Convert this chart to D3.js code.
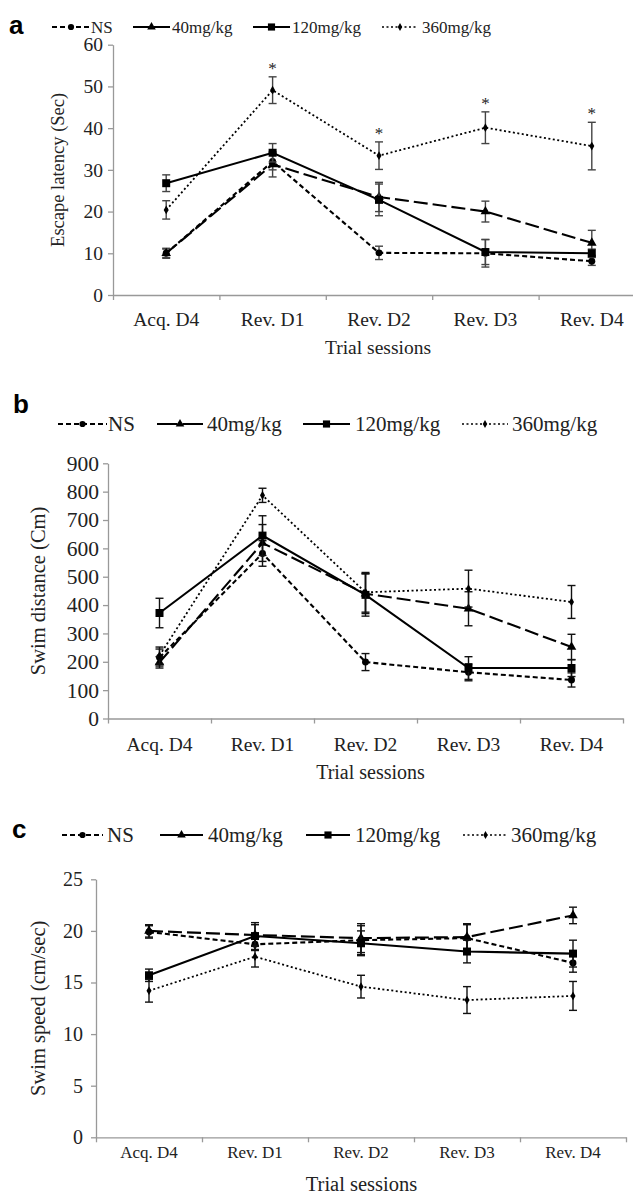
<!doctype html>
<html lang="en">
<head>
<meta charset="utf-8">
<title>Escape latency, swim distance and swim speed</title>
<style>
  body { margin: 0; background: #fff; }
  svg text { font-family: "Liberation Serif", "Times New Roman", serif; fill: #222; }
  .letter { font-family: "Liberation Sans", Arial, sans-serif !important; font-weight: bold; fill: #000 !important; }
  .axis path, .axis line { stroke: #999; stroke-width: 1.3px; }
</style>
<script src="https://d3js.org/d3.v7.min.js"></script>
</head>
<body>
<div id="chart"></div>
<script>
// sessions and groups
var sessions = ["Acq. D4", "Rev. D1", "Rev. D2", "Rev. D3", "Rev. D4"];
var groups = ["NS", "40mg/kg", "120mg/kg", "360mg/kg"];

// panel a - escape latency (sec)
var latencyNS = [10, 32, 10.1, 10, 8.1];
var latencyNSErr = [1.2, 2, 1.6, 3.3, 1];
var latency40 = [10, 31.3, 23.5, 20, 12.5];
var latency40Err = [1, 3, 3.5, 2.5, 3];
var latency120 = [26.8, 34.1, 22.8, 10.3, 10];
var latency120Err = [2, 2.2, 3.8, 3, 1];
var latency360 = [20.4, 49.1, 33.4, 40.1, 35.7];
var latency360Err = [2.2, 3.2, 3.3, 3.8, 5.7];
var latencyStars = ["", "*", "*", "*", "*"];
var latencyTicks = [0, 10, 20, 30, 40, 50, 60];

// panel b - swim distance (cm)
var distanceNS = [215, 582, 199, 163, 136];
var distanceNSErr = [30, 45, 30, 30, 25];
var distance40 = [198, 619, 440, 387, 252];
var distance40Err = [20, 65, 70, 60, 45];
var distance120 = [372, 645, 436, 178, 178];
var distance120Err = [52, 70, 75, 40, 30];
var distance360 = [222, 787, 445, 458, 411];
var distance360Err = [30, 25, 70, 65, 58];
var distanceTicks = [0, 100, 200, 300, 400, 500, 600, 700, 800, 900];

// panel c - swim speed (cm/sec)
var speedNS = [19.9, 18.7, 19.1, 19.3, 16.9];
var speedNSErr = [0.6, 0.6, 1.4, 1.3, 0.9];
var speed40 = [20, 19.6, 19.3, 19.4, 21.5];
var speed40Err = [0.6, 1, 1.4, 1.3, 0.8];
var speed120 = [15.7, 19.5, 18.8, 18, 17.8];
var speed120Err = [0.6, 1.3, 1.2, 1.1, 1.3];
var speed360 = [14.2, 17.5, 14.6, 13.3, 13.7];
var speed360Err = [1.1, 1, 1.1, 1.3, 1.4];
var speedTicks = [0, 5, 10, 15, 20, 25];

// line styles per group
var dashes = ["5,3", "14,5", null, "2,2.5"];
var symbols = [d3.symbolCircle, d3.symbolTriangle, d3.symbolSquare, d3.symbolDiamond];
var symSizes = [38, 40, 64, 22];

var svg = d3.select("#chart").append("svg")
  .attr("width", 633)
  .attr("height", 1195);

function drawPanel(p) {
  var g = svg.append("g");

  var x = d3.scaleBand().domain(sessions).range([p.left, p.right]).padding(0);
  var xi = d3.scaleLinear().domain([0, sessions.length]).range([p.left, p.right]);
  var y = d3.scaleLinear().domain(p.domain).range([p.bottom, p.top]);

  // y axis
  var yAxis = g.append("g").attr("class", "axis")
    .attr("transform", "translate(" + p.left + ",0)")
    .call(d3.axisLeft(y).tickValues(p.ticks).tickSize(5).tickSizeOuter(0).tickPadding(p.yPad));
  yAxis.selectAll("text").style("font-size", p.yTickFont + "px");

  // x axis: boundary ticks, labels at band centers
  g.append("g").attr("class", "axis")
    .attr("transform", "translate(0," + p.bottom + ")")
    .call(d3.axisBottom(xi).tickValues([0, 1, 2, 3, 4, 5]).tickSize(5).tickSizeOuter(0).tickFormat(""));
  g.selectAll(".xlab").data(sessions).enter().append("text")
    .attr("x", function(d) { return x(d) + x.bandwidth() / 2; })
    .attr("y", p.bottom + p.xLabOff)
    .attr("text-anchor", "middle")
    .style("font-size", p.xTickFont + "px")
    .text(function(d) { return d; });

  // titles
  g.append("text")
    .attr("transform", "translate(" + p.yTitleX + "," + ((p.top + p.bottom) / 2) + ") rotate(-90)")
    .attr("text-anchor", "middle")
    .attr("dy", "0.35em")
    .style("font-size", p.yTitleFont + "px")
    .text(p.yTitle);
  g.append("text")
    .attr("x", (p.left + 633) / 2 + p.xTitleShift)
    .attr("y", p.bottom + p.xTitleOff)
    .attr("text-anchor", "middle")
    .style("font-size", p.xTitleFont + "px")
    .text("Trial sessions");

  // series
  var line = d3.line()
    .x(function(d, i) { return x(sessions[i]) + x.bandwidth() / 2; })
    .y(function(d) { return y(d); });

  p.series.forEach(function(vals, k) {
    var errs = p.errors[k];
    var cx = function(d, i) { return x(sessions[i]) + x.bandwidth() / 2; };

    var eb = g.append("g").attr("stroke", p.errColor).attr("stroke-width", 1.4);
    vals.forEach(function(v, i) {
      var px = cx(v, i);
      eb.append("line").attr("x1", px).attr("x2", px).attr("y1", y(v - errs[i])).attr("y2", y(v + errs[i]));
      eb.append("line").attr("x1", px - 4).attr("x2", px + 4).attr("y1", y(v - errs[i])).attr("y2", y(v - errs[i]));
      eb.append("line").attr("x1", px - 4).attr("x2", px + 4).attr("y1", y(v + errs[i])).attr("y2", y(v + errs[i]));
    });

    g.append("path").datum(vals)
      .attr("fill", "none")
      .attr("stroke", "#000")
      .attr("stroke-width", k == 3 ? 1.8 : 2.1)
      .attr("stroke-dasharray", dashes[k])
      .attr("d", line);

    g.selectAll(".m" + k).data(vals).enter().append("path")
      .attr("transform", function(d, i) { return "translate(" + cx(d, i) + "," + y(d) + ")"; })
      .attr("d", d3.symbol().type(symbols[k]).size(symSizes[k]))
      .attr("fill", "#000");

    if (p.stars && k == 3) {
      g.selectAll(".star").data(vals).enter().append("text")
        .attr("x", cx)
        .attr("y", function(d, i) { return y(d + errs[i]) - 3; })
        .attr("text-anchor", "middle")
        .style("font-size", "17px")
        .text(function(d, i) { return p.stars[i]; });
    }
  });

  // legend
  groups.forEach(function(name, k) {
    var lx0 = p.legend[k][0], lx1 = p.legend[k][1], tx = p.legend[k][2];
    var len = lx1 - lx0;
    // long-dash key: put the one gap under the marker
    var dash = k == 1 ? (len / 2 - 2.5) + ",5," + len : dashes[k];
    g.append("line")
      .attr("x1", lx0).attr("x2", lx1)
      .attr("y1", p.legendY).attr("y2", p.legendY)
      .attr("stroke", "#000")
      .attr("stroke-width", k == 3 ? 1.6 : 2)
      .attr("stroke-dasharray", dash);
    g.append("path")
      .attr("transform", "translate(" + ((lx0 + lx1) / 2) + "," + p.legendY + ")")
      .attr("d", d3.symbol().type(symbols[k]).size(symSizes[k] * 0.8))
      .attr("fill", "#000");
    g.append("text")
      .attr("x", tx).attr("y", p.legendY)
      .attr("dy", "0.35em")
      .style("font-size", p.legendFont + "px")
      .text(name);
  });

  svg.append("text").attr("class", "letter")
    .attr("x", p.letterX).attr("y", p.letterY)
    .style("font-size", "26px")
    .text(p.letter);
}

drawPanel({
  letter: "a", letterX: 9, letterY: 34,
  left: 113, right: 645, top: 44.7, bottom: 295,
  domain: [0, 60], ticks: latencyTicks,
  series: [latencyNS, latency40, latency120, latency360],
  errors: [latencyNSErr, latency40Err, latency120Err, latency360Err],
  stars: latencyStars,
  errColor: "#444",
  yTickFont: 19.5, yPad: 5, xTickFont: 19.5, xLabOff: 31,
  yTitle: "Escape latency (Sec)", yTitleX: 58, yTitleFont: 18.5,
  xTitleOff: 59, xTitleShift: 5, xTitleFont: 19.5,
  legendY: 27, legendFont: 17,
  legend: [[52, 90, 91], [133, 170, 172], [253, 290, 292], [382, 418, 422]]
});

drawPanel({
  letter: "b", letterX: 13, letterY: 413,
  left: 108, right: 623, top: 463.3, bottom: 718.5,
  domain: [0, 900], ticks: distanceTicks,
  series: [distanceNS, distance40, distance120, distance360],
  errors: [distanceNSErr, distance40Err, distance120Err, distance360Err],
  stars: null,
  errColor: "#111",
  yTickFont: 21.5, yPad: 4, xTickFont: 19.5, xLabOff: 32,
  yTitle: "Swim distance (Cm)", yTitleX: 38, yTitleFont: 20.5,
  xTitleOff: 60, xTitleShift: 0, xTitleFont: 20,
  legendY: 424, legendFont: 21,
  legend: [[58, 107, 108], [157, 203, 207], [303, 350, 355], [462, 508, 512]]
});

drawPanel({
  letter: "c", letterX: 12, letterY: 838,
  left: 96, right: 626, top: 879.3, bottom: 1137.3,
  domain: [0, 25], ticks: speedTicks,
  series: [speedNS, speed40, speed120, speed360],
  errors: [speedNSErr, speed40Err, speed120Err, speed360Err],
  stars: null,
  errColor: "#111",
  yTickFont: 20, yPad: 8, xTickFont: 17, xLabOff: 21,
  yTitle: "Swim speed (cm/sec)", yTitleX: 38, yTitleFont: 20.5,
  xTitleOff: 54, xTitleShift: -3, xTitleFont: 20.5,
  legendY: 835, legendFont: 21,
  legend: [[62, 103, 107], [160, 203, 208], [306, 350, 355], [463, 508, 511]]
});
</script>
</body>
</html>
